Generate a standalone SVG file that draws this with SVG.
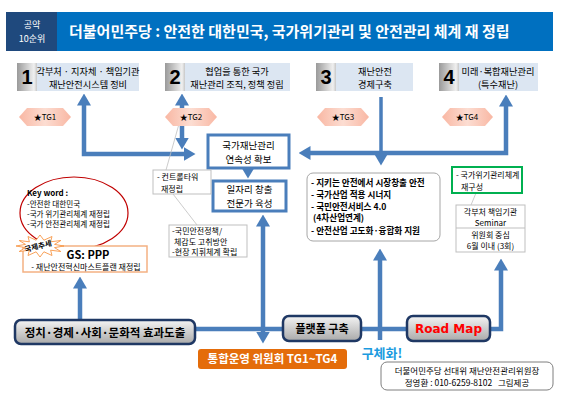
<svg xmlns="http://www.w3.org/2000/svg" width="561" height="400" viewBox="0 0 561 400">
<style>
text{font-family:"Noto Sans CJK KR","Liberation Sans",sans-serif;fill:#000}
.c{text-anchor:middle}
.w{fill:#fff}
.b{font-weight:bold}
.num{font-family:"Liberation Sans",sans-serif;font-weight:bold;font-size:20px;text-anchor:middle}
.bt{font-size:9.2px;text-anchor:middle}
.tg{font-size:8px;text-anchor:middle}
.sm{font-size:8px}
.kw{font-size:7.6px}
.mk{font-size:8.6px;font-weight:bold}
.conn{fill:none;stroke:#4A7EBB;stroke-width:4.5}
.thin{fill:none;stroke:#BFBFBF;stroke-width:0.8}
.nbox{fill:#DCE6F2}
.hex{fill:url(#hexg)}
.pill{fill:url(#pillg);stroke:#1F3864;stroke-width:2.5}
.gbox{fill:#fff;stroke:#BFBFBF;stroke-width:1}
.bbox{fill:#fff;stroke:#4A7EBB;stroke-width:3}
</style>
<defs>
<linearGradient id="numg" x1="0" y1="0" x2="1" y2="0"><stop offset="0" stop-color="#9A9A9A"/><stop offset="0.85" stop-color="#F0F0F0"/><stop offset="1" stop-color="#C8C8C8"/></linearGradient>
<linearGradient id="hexg" x1="0" y1="0" x2="1" y2="0"><stop offset="0" stop-color="#F9B7A3"/><stop offset="0.5" stop-color="#FCDDD2"/><stop offset="1" stop-color="#F9B7A3"/></linearGradient>
<linearGradient id="pillg" x1="0" y1="0" x2="0" y2="1"><stop offset="0" stop-color="#F4F4F4"/><stop offset="1" stop-color="#A9A9A9"/></linearGradient>
<marker id="ah" viewBox="0 0 12 14" refX="0.5" refY="7" markerWidth="12" markerHeight="14" orient="auto-start-reverse" markerUnits="userSpaceOnUse"><path d="M0,0 L12,7 L0,14 z" fill="#4A7EBB"/></marker>
<marker id="ahs" viewBox="0 0 10 12" refX="0.5" refY="6" markerWidth="10" markerHeight="12" orient="auto" markerUnits="userSpaceOnUse"><path d="M0,0 L10,6 L0,12 z" fill="#4A7EBB"/></marker>
</defs>
<rect width="561" height="400" fill="#fff"/>

<g id="title">
<rect x="6" y="12" width="51" height="39" fill="#1F497D"/>
<rect x="57" y="12" width="496" height="39" fill="#0070C0"/>
<text class="c w" x="32" y="27.5" font-size="9">공약</text>
<text class="c w" x="32" y="42" font-size="9">10순위</text>
<text class="w" x="69" y="37" font-size="15" font-weight="bold">더불어민주당 : 안전한 대한민국, 국가위기관리 및 안전관리 체계 재 정립</text>
</g>

<g id="connectors">
<path class="conn" d="M84,105 V154 H184" marker-start="url(#ah)" marker-end="url(#ah)"/>
<path class="conn" d="M182,105 V138" marker-start="url(#ah)" marker-end="url(#ah)"/>
<path class="conn" d="M506,106 V153 H310" marker-start="url(#ah)" marker-end="url(#ah)"/>
<path class="conn" style="stroke-width:3.5" d="M381,97 V154" marker-end="url(#ah)"/>
<path class="conn" d="M248,167 V169" marker-end="url(#ahs)"/>
<path class="conn" d="M263,226 V332" marker-start="url(#ah)" marker-end="url(#ah)"/>
<path class="conn" d="M80,320 V288" marker-end="url(#ah)"/>
<path class="conn" d="M380,340 V260" marker-end="url(#ah)"/>
<path class="conn" d="M195,329 H283 M361,329 H407"/>
<path class="conn" d="M490,329 H501 V270" marker-end="url(#ah)"/>
<path class="thin" d="M179,124 L166,170 M173,194 L197,225 M476,193 L471,205"/>
</g>

<g id="box1">
<rect class="nbox" x="17" y="63" width="122" height="28"/>
<rect x="17" y="63" width="20" height="28" fill="url(#numg)"/>
<text class="num" x="27" y="84">1</text>
<text class="bt" x="88" y="74.5">각부처 · 지자체 · 책임기관</text>
<text class="bt" x="88" y="88">재난안전시스템 정비</text>
</g>
<g id="box2">
<rect class="nbox" x="165" y="63" width="125" height="28"/>
<rect x="165" y="63" width="20" height="28" fill="url(#numg)"/>
<text class="num" x="175" y="84">2</text>
<text class="bt" x="237" y="74.5">협업을 통한 국가</text>
<text class="bt" x="237" y="88">재난관리 조직, 정책 정립</text>
</g>
<g id="box3">
<rect class="nbox" x="316" y="63" width="97" height="28"/>
<rect x="316" y="63" width="20" height="28" fill="url(#numg)"/>
<text class="num" x="326" y="84">3</text>
<text class="bt" x="375" y="74.5">재난안전</text>
<text class="bt" x="375" y="88">경제구축</text>
</g>
<g id="box4">
<rect class="nbox" x="439" y="63" width="99" height="28"/>
<rect x="439" y="63" width="20" height="28" fill="url(#numg)"/>
<text class="num" x="449" y="84">4</text>
<text class="bt" x="498" y="74.5">미래·복합재난관리</text>
<text class="bt" x="498" y="88">(특수재난)</text>
</g>

<g id="tg1"><polygon class="hex" points="19,117 27,108 63,108 71,117 63,126 27,126"/><text class="tg" x="45" y="120">★TG1</text></g>
<g id="tg2"><polygon class="hex" points="165,117 173,108 209,108 217,117 209,126 173,126"/><text class="tg" x="191" y="120">★TG2</text></g>
<g id="tg3"><polygon class="hex" points="317,117 325,108 361,108 369,117 361,126 325,126"/><text class="tg" x="343" y="120">★TG3</text></g>
<g id="tg4"><polygon class="hex" points="442,117 450,108 485,108 493,117 485,126 450,126"/><text class="tg" x="467" y="120">★TG4</text></g>

<g id="continuity">
<rect class="bbox" x="208" y="135" width="81" height="33"/>
<text class="c" x="248.5" y="148.5" font-size="9.5">국가재난관리</text>
<text class="c" x="248.5" y="162.5" font-size="9.5">연속성 확보</text>
</g>
<g id="jobs">
<rect class="bbox" x="213" y="181" width="73" height="30"/>
<text class="c" x="249.5" y="193" font-size="9.5">일자리 창출</text>
<text class="c" x="249.5" y="207" font-size="9.5">전문가 육성</text>
</g>
<g id="controltower">
<rect class="gbox" x="153" y="170" width="58" height="24"/>
<text class="sm" x="157" y="180">- 컨트롤타워</text>
<text class="sm" x="161" y="191.5">재정립</text>
</g>
<g id="safetypolicy">
<rect class="gbox" x="169" y="225" width="78" height="32"/>
<text class="sm" x="172" y="234">-국민안전정책/</text>
<text class="sm" x="174" y="244.5">체감도 고취방안</text>
<text class="sm" x="172" y="255">-현장 지휘체계 확립</text>
</g>
<g id="market">
<rect x="307" y="173" width="133" height="68" rx="6" fill="#fff" stroke="#A6A6A6"/>
<text class="mk" x="311" y="185.5">- 지키는 안전에서 시장창출 안전</text>
<text class="mk" x="311" y="197.5">- 국가산업 적용 시너지</text>
<text class="mk" x="311" y="209.5">- 국민안전서비스 4.0</text>
<text class="mk" x="313" y="221">(4차산업연계)</text>
<text class="mk" x="311" y="233.5">- 안전산업 고도화·융합화 지원</text>
</g>
<g id="crisis">
<rect x="452" y="167" width="70" height="26" fill="#fff" stroke="#00B050" stroke-width="2"/>
<text class="sm" x="456" y="178">- 국가위기관리체계</text>
<text class="sm" x="461" y="189.5">재구성</text>
</g>
<g id="seminar">
<rect class="gbox" x="456" y="205" width="69" height="47"/>
<line x1="456" y1="228" x2="525" y2="228" stroke="#BFBFBF"/>
<text class="c sm" x="490.5" y="215">각부처 책임기관</text>
<text class="c sm" x="490.5" y="225.5">Seminar</text>
<text class="c sm" x="490.5" y="238">위원회 중심</text>
<text class="c sm" x="490.5" y="249">6월 이내 (3회)</text>
</g>

<g id="keyword">
<ellipse cx="74" cy="213" rx="54" ry="36" fill="#fff" stroke="#C00000" stroke-width="1.2"/>
<text x="27" y="196" font-size="8" font-weight="bold">Key word :</text>
<text class="kw" x="27" y="206.5">-안전한 대한민국</text>
<text class="kw" x="27" y="216.5">-국가 위기관리체계 재정립</text>
<text class="kw" x="27" y="226.5">-국가 안전관리체계 재정립</text>
</g>
<g id="gsppp">
<rect x="23" y="246" width="124" height="26" fill="#fff" stroke="#F4B183" stroke-width="1.5"/>
<text class="c b" x="88" y="259" font-size="11">GS: PPP</text>
<text class="c" x="86" y="269.5" font-size="8">- 재난안전혁신마스트플랜 재정립</text>
</g>
<g id="trend">
<polygon points="64,246 54.5,247.6 60.8,251.5 50.6,250.2 52,255.5 43.9,251.8 40,257 36.1,251.8 28,255.5 29.4,250.2 19.2,251.5 25.5,247.6 16,246 25.5,244.4 19.2,240.5 29.4,241.8 28,236.5 36.1,240.2 40,235 43.9,240.2 52,236.5 50.6,241.8 60.8,240.5 54.5,244.4" fill="#fff" stroke="#F79646" stroke-width="0.9"/>
<text class="c b" x="38" y="249" font-size="7.5" transform="rotate(-14 38 246)">국제추세</text>
</g>

<g id="pill1">
<rect class="pill" x="15" y="320" width="180" height="24" rx="6"/>
<text class="c b" x="105" y="336.5" font-size="11.5">정치·경제·사회·문화적 효과도출</text>
</g>
<g id="pill2">
<rect class="pill" x="283" y="316" width="78" height="25" rx="6"/>
<text class="c b" x="322" y="333" font-size="11">플랫폼 구축</text>
</g>
<g id="roadmap">
<rect class="pill" x="407" y="316" width="83" height="25" rx="6"/>
<text class="c b" x="448.5" y="333" font-size="12" style="font-family:'DejaVu Sans',sans-serif;fill:#FF0000">Road Map</text>
</g>
<g id="committee">
<rect x="198" y="349" width="149" height="20" rx="3" fill="#E46C0A"/>
<text class="c w b" x="272.5" y="363" font-size="11.5">통합운영 위원회 TG1~TG4</text>
</g>
<g id="concretize">
<text class="c b" x="382" y="358" font-size="13" style="fill:#1C9BDF">구체화!</text>
</g>
<g id="credit">
<rect x="381" y="362" width="172" height="28" rx="6" fill="#fff" stroke="#7F7F7F"/>
<text class="c" x="467" y="373.5" font-size="8.5">더불어민주당 선대위 재난안전관리위원장</text>
<text class="c" x="467" y="386" font-size="8.5" xml:space="preserve">정영환 : 010-6259-8102   그림제공</text>
</g>
</svg>
